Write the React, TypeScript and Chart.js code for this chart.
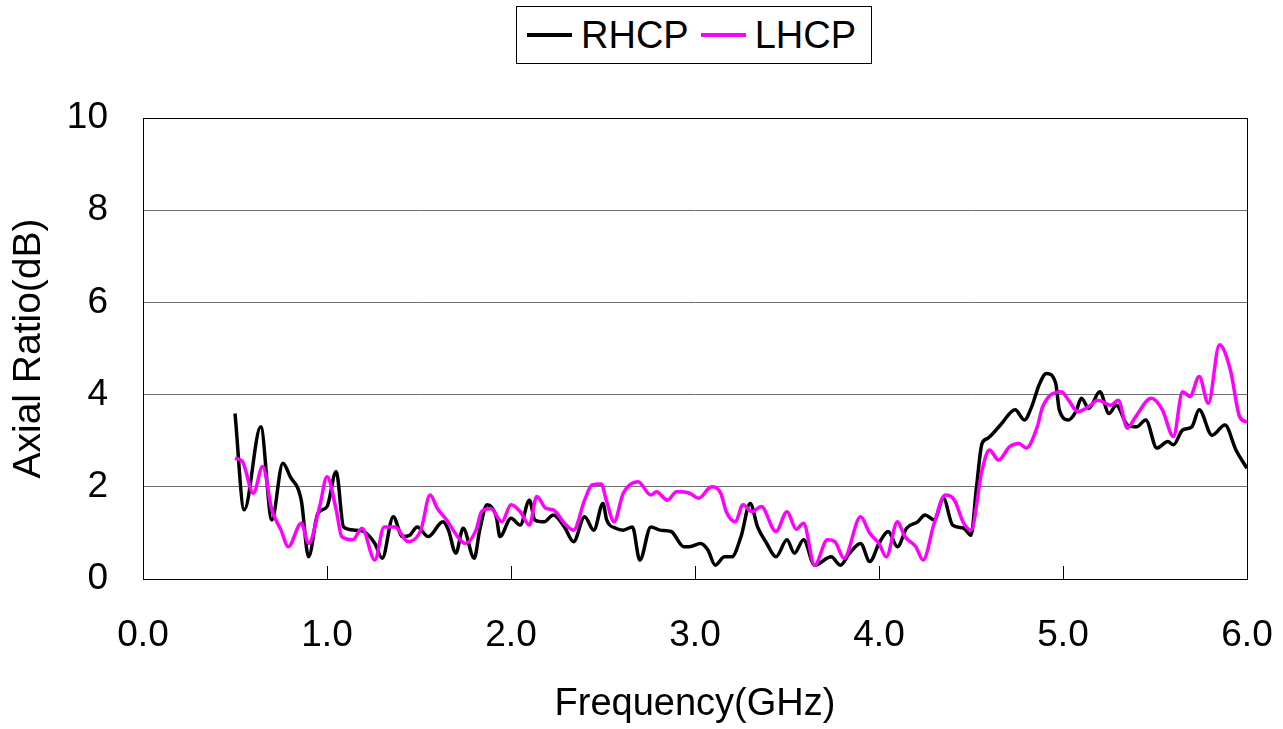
import React, { useEffect, useRef } from 'react';
import { Chart, registerables } from 'chart.js';

Chart.register(...registerables);

const seriesNames = ['RHCP', 'LHCP'];
const seriesColors = ['#000000', '#FF00FF'];

const rhcpFreq = [
  0.50, 0.55, 0.64, 0.70, 0.76, 0.80, 0.86, 0.90, 0.95, 1.00,
  1.05, 1.09, 1.15, 1.20, 1.26, 1.30, 1.36, 1.41, 1.45, 1.49,
  1.55, 1.63, 1.66, 1.70, 1.74, 1.80, 1.83, 1.87, 1.92, 1.94,
  2.00, 2.05, 2.10, 2.13, 2.18, 2.23, 2.29, 2.34, 2.40, 2.45,
  2.50, 2.52, 2.57, 2.61, 2.66, 2.70, 2.76, 2.81, 2.87, 2.94,
  2.97, 3.03, 3.07, 3.11, 3.16, 3.20, 3.25, 3.30, 3.34, 3.39,
  3.44, 3.50, 3.54, 3.59, 3.65, 3.74, 3.79, 3.84, 3.90, 3.95,
  4.00, 4.05, 4.10, 4.15, 4.21, 4.25, 4.30, 4.35, 4.40, 4.46,
  4.50, 4.53, 4.56, 4.59, 4.66, 4.74, 4.79, 4.83, 4.87, 4.91,
  4.96, 4.98, 5.03, 5.07, 5.10, 5.14, 5.20, 5.25, 5.29, 5.35,
  5.40, 5.45, 5.51, 5.57, 5.60, 5.65, 5.70, 5.74, 5.81, 5.88,
  5.94, 6.00,
];
const rhcpAR = [
  3.59, 1.50, 3.30, 1.28, 2.51, 2.22, 1.71, 0.48, 1.42, 1.57,
  2.33, 1.13, 1.06, 1.03, 0.77, 0.45, 1.35, 0.92, 0.95, 1.13,
  0.92, 1.24, 1.06, 0.56, 1.10, 0.45, 1.06, 1.61, 1.35, 0.92,
  1.32, 1.17, 1.71, 1.28, 1.24, 1.39, 1.13, 0.81, 1.35, 1.06,
  1.64, 1.28, 1.10, 1.06, 1.13, 0.41, 1.13, 1.06, 1.03, 0.70,
  0.70, 0.77, 0.63, 0.30, 0.48, 0.48, 0.92, 1.64, 1.13, 0.77,
  0.48, 0.85, 0.56, 0.85, 0.30, 0.48, 0.30, 0.56, 0.77, 0.38,
  0.77, 1.03, 0.70, 1.10, 1.24, 1.39, 1.28, 1.75, 1.17, 1.10,
  0.95, 2.00, 2.94, 3.05, 3.34, 3.67, 3.45, 3.74, 4.21, 4.46,
  4.25, 3.67, 3.45, 3.63, 3.92, 3.70, 4.06, 3.59, 3.77, 3.34,
  3.30, 3.45, 2.84, 2.98, 2.91, 3.23, 3.30, 3.67, 3.12, 3.34,
  2.80, 2.40,
];

const lhcpFreq = [
  0.50, 0.54, 0.60, 0.65, 0.70, 0.75, 0.79, 0.86, 0.90, 0.96,
  1.00, 1.05, 1.08, 1.14, 1.19, 1.26, 1.31, 1.37, 1.44, 1.51,
  1.56, 1.60, 1.65, 1.71, 1.75, 1.81, 1.84, 1.89, 1.95, 2.00,
  2.05, 2.10, 2.14, 2.19, 2.23, 2.29, 2.34, 2.40, 2.44, 2.49,
  2.52, 2.56, 2.61, 2.69, 2.76, 2.79, 2.85, 2.90, 2.97, 3.02,
  3.09, 3.14, 3.17, 3.22, 3.26, 3.31, 3.36, 3.44, 3.50, 3.55,
  3.59, 3.65, 3.72, 3.76, 3.81, 3.90, 3.95, 4.00, 4.04, 4.10,
  4.14, 4.20, 4.24, 4.30, 4.36, 4.41, 4.46, 4.50, 4.56, 4.60,
  4.65, 4.71, 4.76, 4.80, 4.86, 4.89, 4.99, 5.03, 5.08, 5.14,
  5.19, 5.26, 5.30, 5.35, 5.39, 5.48, 5.54, 5.60, 5.65, 5.69,
  5.74, 5.79, 5.85, 5.91, 5.96, 6.00,
];
const lhcpAR = [
  2.62, 2.55, 1.86, 2.44, 1.50, 1.06, 0.70, 1.21, 0.77, 1.57,
  2.22, 1.50, 0.92, 0.85, 1.10, 0.41, 1.13, 1.13, 0.81, 1.06,
  1.82, 1.53, 1.28, 0.92, 0.77, 1.06, 1.46, 1.53, 1.24, 1.61,
  1.46, 1.17, 1.79, 1.53, 1.50, 1.21, 1.06, 1.71, 2.04, 2.06,
  1.68, 1.24, 1.86, 2.11, 1.82, 1.89, 1.71, 1.89, 1.86, 1.75,
  2.00, 1.86, 1.46, 1.24, 1.61, 1.46, 1.57, 1.03, 1.46, 1.08,
  1.21, 0.30, 0.85, 0.81, 0.45, 1.35, 0.99, 0.77, 0.48, 1.24,
  0.92, 0.70, 0.41, 1.21, 1.82, 1.71, 1.21, 1.06, 2.36, 2.80,
  2.58, 2.87, 2.94, 2.84, 3.30, 3.74, 4.06, 3.88, 3.63, 3.74,
  3.88, 3.77, 3.88, 3.27, 3.49, 3.92, 3.67, 3.09, 4.06, 3.96,
  4.39, 3.81, 5.08, 4.53, 3.52, 3.40,
];

const xTicks = [0, 1, 2, 3, 4, 5, 6];
const yTicks = [0, 2, 4, 6, 8, 10];
const xTitle = 'Frequency(GHz)';
const yTitle = 'Axial Ratio(dB)';

const FONT = 'Arial, "Liberation Sans", sans-serif';

const framePlugin = {
  id: 'frameAndInnerTicks',
  afterDraw(chart: any) {
    const { ctx, chartArea } = chart;
    const xs = chart.scales.x;
    ctx.save();
    ctx.strokeStyle = '#000000';
    ctx.lineWidth = 1;
    ctx.strokeRect(
      Math.round(chartArea.left) + 0.5,
      Math.round(chartArea.top) + 0.5,
      Math.round(chartArea.right - chartArea.left),
      Math.round(chartArea.bottom - chartArea.top)
    );
    ctx.beginPath();
    xTicks.forEach((t) => {
      const px = Math.round(xs.getPixelForValue(t)) + 0.5;
      ctx.moveTo(px, chartArea.bottom);
      ctx.lineTo(px, chartArea.bottom - 13);
    });
    ctx.stroke();
    ctx.restore();
  },
};

export default function App() {
  const canvasRef = useRef<HTMLCanvasElement | null>(null);

  useEffect(() => {
    document.body.style.margin = '0';
    const canvas = canvasRef.current;
    if (!canvas) return;
    const mk = (fx: number[], fy: number[]) => fx.map((f, i) => ({ x: f, y: fy[i] }));
    const chart = new Chart(canvas, {
      type: 'line',
      data: {
        datasets: [
          {
            label: seriesNames[0],
            data: mk(rhcpFreq, rhcpAR),
            borderColor: seriesColors[0],
            backgroundColor: seriesColors[0],
            borderWidth: 3.5,
            pointRadius: 0,
            cubicInterpolationMode: 'monotone',
            order: 1,
          },
          {
            label: seriesNames[1],
            data: mk(lhcpFreq, lhcpAR),
            borderColor: seriesColors[1],
            backgroundColor: seriesColors[1],
            borderWidth: 3.5,
            pointRadius: 0,
            cubicInterpolationMode: 'monotone',
            order: 0,
          },
        ],
      },
      options: {
        responsive: false,
        animation: false,
        events: [],
        layout: { padding: { left: 0, right: 36, top: 118, bottom: 0 } },
        plugins: {
          legend: { display: false },
          tooltip: { enabled: false },
        },
        scales: {
          x: {
            type: 'linear',
            min: 0,
            max: 6,
            afterBuildTicks: (s: any) => {
              s.ticks = xTicks.map((v) => ({ value: v }));
            },
            afterFit: (s: any) => {
              s.height = 150;
              s.paddingLeft = 0;
              s.paddingRight = 0;
            },
            ticks: {
              font: { family: FONT, size: 37 },
              color: '#000000',
              padding: 35,
              maxRotation: 0,
              autoSkip: false,
              callback: (v: any) => Number(v).toFixed(1),
            },
            grid: { display: false, drawTicks: false },
            border: { display: true, color: '#000000', width: 1 },
            title: {
              display: true,
              text: xTitle,
              color: '#000000',
              font: { family: FONT, size: 38 },
              padding: { top: 0, bottom: 2 },
            },
          },
          y: {
            type: 'linear',
            min: 0,
            max: 10,
            afterBuildTicks: (s: any) => {
              s.ticks = yTicks.map((v) => ({ value: v }));
            },
            afterFit: (s: any) => {
              s.width = 143;
              s.paddingTop = 0;
              s.paddingBottom = 0;
            },
            ticks: {
              font: { family: FONT, size: 37 },
              color: '#000000',
              padding: 35,
              autoSkip: false,
            },
            grid: { color: '#6e6e6e', lineWidth: 1, drawTicks: false },
            border: { display: true, color: '#000000', width: 1 },
            title: {
              display: true,
              text: yTitle,
              color: '#000000',
              font: { family: FONT, size: 39 },
              padding: { top: 6, bottom: 0 },
            },
          },
        },
      },
      plugins: [framePlugin],
    } as any);
    return () => chart.destroy();
  }, []);

  const legendItem = (name: string, color: string, ml: number) => (
    <div style={{ display: 'flex', alignItems: 'center', marginLeft: ml }}>
      <div style={{ width: 45, height: 4, background: color, marginRight: 9 }} />
      <span style={{ fontFamily: FONT, fontSize: 38, color: '#000', lineHeight: '40px' }}>{name}</span>
    </div>
  );

  return (
    <div style={{ position: 'fixed', left: 0, top: 0, width: 1283, height: 729, background: '#fff' }}>
      <canvas ref={canvasRef} width={1283} height={729} style={{ display: 'block', width: 1283, height: 729 }} />
      <div
        style={{
          position: 'absolute',
          left: 516,
          top: 6,
          width: 356,
          height: 58,
          boxSizing: 'border-box',
          border: '1px solid #000',
          background: '#fff',
          display: 'flex',
          alignItems: 'center',
        }}
      >
        {legendItem(seriesNames[0], seriesColors[0], 10)}
        {legendItem(seriesNames[1], seriesColors[1], 12)}
      </div>
    </div>
  );
}
